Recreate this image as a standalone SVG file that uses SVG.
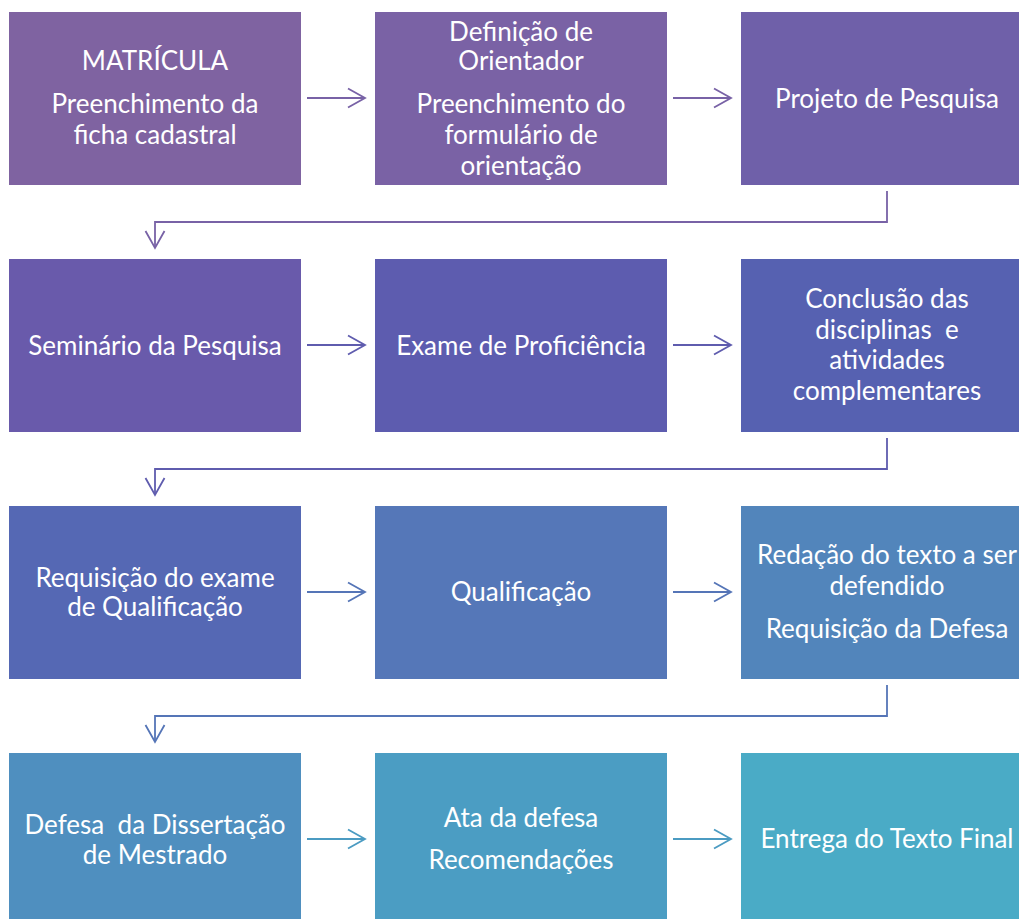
<svg xmlns="http://www.w3.org/2000/svg" width="1019" height="919" viewBox="0 0 1019 919">
<style>
  .box text { font-family: Lato, "Open Sans", "Liberation Sans", sans-serif; font-size: 26px; fill: #ffffff; text-anchor: middle; white-space: pre; }
  .c { fill: none; stroke-width: 1.8; }
  .r1 { stroke: #7862A6; }
  .r2 { stroke: #5F5CAE; }
  .r3 { stroke: #5575B7; }
  .r4 { stroke: #4B9BC2; }
</style>
<defs>
  <marker id="a1" markerUnits="userSpaceOnUse" markerWidth="20" markerHeight="22" refX="18" refY="11" orient="auto"><path d="M1,1.5 L18,11 L1,20.5" fill="none" stroke="#7862A6" stroke-width="1.8"/></marker>
  <marker id="a2" markerUnits="userSpaceOnUse" markerWidth="20" markerHeight="22" refX="18" refY="11" orient="auto"><path d="M1,1.5 L18,11 L1,20.5" fill="none" stroke="#5F5CAE" stroke-width="1.8"/></marker>
  <marker id="a3" markerUnits="userSpaceOnUse" markerWidth="20" markerHeight="22" refX="18" refY="11" orient="auto"><path d="M1,1.5 L18,11 L1,20.5" fill="none" stroke="#5575B7" stroke-width="1.8"/></marker>
  <marker id="a4" markerUnits="userSpaceOnUse" markerWidth="20" markerHeight="22" refX="18" refY="11" orient="auto"><path d="M1,1.5 L18,11 L1,20.5" fill="none" stroke="#4B9BC2" stroke-width="1.8"/></marker>
</defs>
<rect width="1019" height="919" fill="#ffffff"/>

<g id="n1" class="box"><rect x="9" y="12" width="292" height="173" fill="#7F63A1"/>
  <text x="155" y="70">MATRÍCULA</text><text x="155" y="113">Preenchimento da</text><text x="155" y="144">ficha cadastral</text></g>
<g id="n2" class="box"><rect x="375" y="12" width="292" height="173" fill="#7A62A5"/>
  <text x="521" y="41">Definição de</text><text x="521" y="70">Orientador</text><text x="521" y="113">Preenchimento do</text><text x="521" y="144">formulário de</text><text x="521" y="175">orientação</text></g>
<g id="n3" class="box"><rect x="741" y="12" width="292" height="173" fill="#6F60A9"/>
  <text x="887" y="108">Projeto de Pesquisa</text></g>

<g id="n4" class="box"><rect x="9" y="259" width="292" height="173" fill="#695AAB"/>
  <text x="155" y="355">Seminário da Pesquisa</text></g>
<g id="n5" class="box"><rect x="375" y="259" width="292" height="173" fill="#5D5CAF"/>
  <text x="521" y="355">Exame de Proficiência</text></g>
<g id="n6" class="box"><rect x="741" y="259" width="292" height="173" fill="#5661B1"/>
  <text x="887" y="308">Conclusão das</text><text x="887" y="339">disciplinas  e</text><text x="887" y="369">atividades</text><text x="887" y="400">complementares</text></g>

<g id="n7" class="box"><rect x="9" y="506" width="292" height="173" fill="#5568B4"/>
  <text x="155" y="587">Requisição do exame</text><text x="155" y="616">de Qualificação</text></g>
<g id="n8" class="box"><rect x="375" y="506" width="292" height="173" fill="#5577B8"/>
  <text x="521" y="601">Qualificação</text></g>
<g id="n9" class="box"><rect x="741" y="506" width="292" height="173" fill="#5285BB"/>
  <text x="887" y="564">Redação do texto a ser</text><text x="887" y="595">defendido</text><text x="887" y="638">Requisição da Defesa</text></g>

<g id="n10" class="box"><rect x="9" y="753" width="292" height="173" fill="#4F8FBF"/>
  <text x="155" y="834">Defesa  da Dissertação</text><text x="155" y="864">de Mestrado</text></g>
<g id="n11" class="box"><rect x="375" y="753" width="292" height="173" fill="#4B9DC3"/>
  <text x="521" y="827">Ata da defesa</text><text x="521" y="869">Recomendações</text></g>
<g id="n12" class="box"><rect x="741" y="753" width="292" height="173" fill="#4AABC6"/>
  <text x="887" y="848">Entrega do Texto Final</text></g>

<g id="connectors">
  <path class="c r1" d="M307,98 H365" marker-end="url(#a1)"/>
  <path class="c r1" d="M673,98 H731" marker-end="url(#a1)"/>
  <path class="c r1" d="M887,191 V222 H155 V248" marker-end="url(#a1)"/>
  <path class="c r2" d="M307,345 H365" marker-end="url(#a2)"/>
  <path class="c r2" d="M673,345 H731" marker-end="url(#a2)"/>
  <path class="c r2" d="M887,438 V469 H155 V495" marker-end="url(#a2)"/>
  <path class="c r3" d="M307,592 H365" marker-end="url(#a3)"/>
  <path class="c r3" d="M673,592 H731" marker-end="url(#a3)"/>
  <path class="c r3" d="M887,685 V716 H155 V742" marker-end="url(#a3)"/>
  <path class="c r4" d="M307,839 H365" marker-end="url(#a4)"/>
  <path class="c r4" d="M673,839 H731" marker-end="url(#a4)"/>
</g>
</svg>
